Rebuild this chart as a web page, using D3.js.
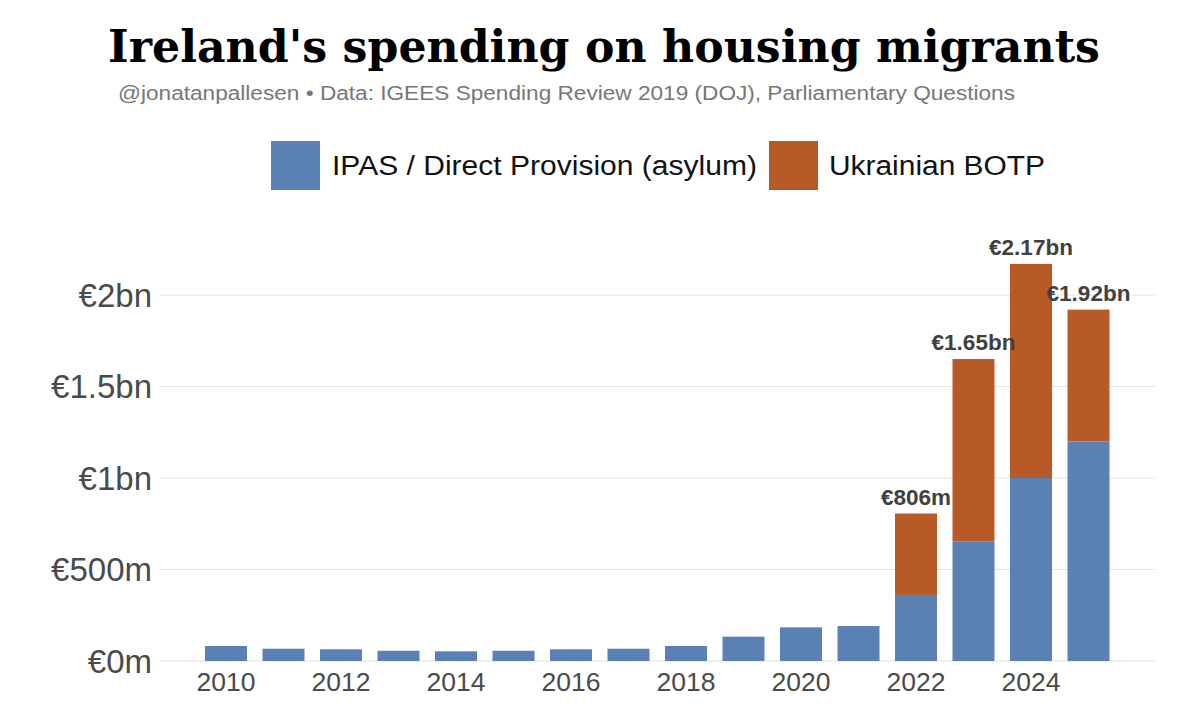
<!DOCTYPE html>
<html>
<head>
<meta charset="utf-8">
<script src="https://cdn.jsdelivr.net/npm/d3@7"></script>
<style>
  body { margin: 0; background: #fff; }
</style>
</head>
<body>
<div id="vis"></div>
<script>
// values in millions of euro
const years = d3.range(2010, 2026);
const ipas = [82, 67, 64, 56, 53, 56, 64, 67, 82, 133, 184, 191, 361, 652, 1000, 1200];
const ukraine = [0, 0, 0, 0, 0, 0, 0, 0, 0, 0, 0, 0, 445, 998, 1170, 720];
const totalLabels = [null, null, null, null, null, null, null, null, null, null, null, null, "€806m", "€1.65bn", "€2.17bn", "€1.92bn"];
const yTicks = [0, 500, 1000, 1500, 2000];
const yTickLabels = ["€0m", "€500m", "€1bn", "€1.5bn", "€2bn"];
const xTicks = [2010, 2012, 2014, 2016, 2018, 2020, 2022, 2024];
const seriesNames = ["IPAS / Direct Provision (asylum)", "Ukrainian BOTP"];
const colors = ["#5a80b4", "#b85a27"];

const W = 1200, H = 709;
const sans = '"Liberation Sans", Arial, Helvetica, sans-serif';

const svg = d3.select("#vis").append("svg")
  .attr("width", W).attr("height", H);

const x = d3.scaleLinear().domain([2010, 2025]).range([226, 1088.5]);
const barW = 42;
const y = d3.scaleLinear().domain([0, 2000]).range([661, 295]);

// gridlines
svg.append("g").selectAll("line").data(yTicks).join("line")
  .attr("x1", 160).attr("x2", 1155)
  .attr("y1", d => y(d)).attr("y2", d => y(d))
  .attr("stroke", "#e3e3e3").attr("stroke-width", 1.2);

// y labels
svg.append("g").selectAll("text").data(yTicks).join("text")
  .attr("x", 152).attr("y", d => y(d))
  .attr("dy", "0.36em")
  .attr("text-anchor", "end")
  .style("font-family", sans).style("font-size", "33px")
  .attr("fill", "#4a4a4a")
  .text((d, i) => yTickLabels[i]);

// x labels
svg.append("g").selectAll("text").data(xTicks).join("text")
  .attr("x", d => x(d)).attr("y", 691)
  .attr("text-anchor", "middle")
  .style("font-family", sans).style("font-size", "26.5px")
  .attr("fill", "#4a4a4a")
  .text(d => d);

const rows = years.map((yr, i) => ({ year: yr, ipas: ipas[i], ukraine: ukraine[i], label: totalLabels[i] }));
const stacked = d3.stack().keys(["ipas", "ukraine"])(rows);

svg.append("g").selectAll("g").data(stacked).join("g")
  .attr("fill", (d, i) => colors[i])
  .selectAll("rect").data(d => d).join("rect")
  .attr("x", d => x(d.data.year) - barW / 2)
  .attr("width", barW)
  .attr("y", d => y(d[1]))
  .attr("height", d => y(d[0]) - y(d[1]));

// total labels
svg.append("g").selectAll("text").data(rows.filter(d => d.label)).join("text")
  .attr("x", d => x(d.year)).attr("y", d => y(d.ipas + d.ukraine) - 9)
  .attr("text-anchor", "middle")
  .style("font-family", sans).style("font-size", "22.5px").style("font-weight", "bold")
  .attr("fill", "#404040")
  .text(d => d.label);

// title
svg.append("text")
  .attr("x", 604).attr("y", 62)
  .attr("text-anchor", "middle")
  .style("font-family", '"DejaVu Serif", Georgia, serif')
  .style("font-size", "44px").style("font-weight", "bold")
  .attr("fill", "#000")
  .attr("textLength", 992).attr("lengthAdjust", "spacingAndGlyphs")
  .text("Ireland's spending on housing migrants");

svg.append("text")
  .attr("x", 118).attr("y", 100)
  .style("font-family", sans).style("font-size", "20px")
  .attr("fill", "#777")
  .attr("textLength", 897).attr("lengthAdjust", "spacingAndGlyphs")
  .text("@jonatanpallesen • Data: IGEES Spending Review 2019 (DOJ), Parliamentary Questions");

// legend
const legend = [
  { name: seriesNames[0], color: colors[0], x: 271, tx: 332, len: 425 },
  { name: seriesNames[1], color: colors[1], x: 769, tx: 829, len: 216 }
];
const lg = svg.append("g");
lg.selectAll("rect").data(legend).join("rect")
  .attr("x", d => d.x).attr("y", 141).attr("width", 49).attr("height", 49)
  .attr("fill", d => d.color);
lg.selectAll("text").data(legend).join("text")
  .attr("x", d => d.tx).attr("y", 175)
  .style("font-family", sans).style("font-size", "27px")
  .attr("fill", "#111")
  .attr("textLength", d => d.len).attr("lengthAdjust", "spacingAndGlyphs")
  .text(d => d.name);
</script>
</body>
</html>
